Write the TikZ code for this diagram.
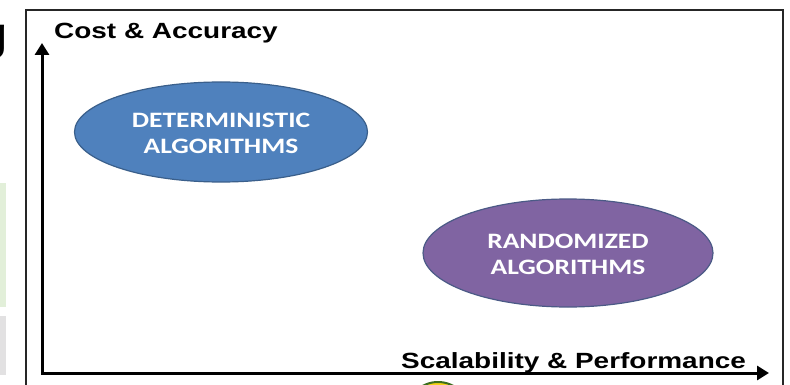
\documentclass[tikz,border=0pt]{standalone}
\usepackage{fontspec}
\usepackage{graphicx}
\usetikzlibrary{arrows.meta,shapes.geometric}
\newfontfamily\axisfont{Liberation Sans}
\newfontfamily\bubblefont{Carlito}
\definecolor{detblue}{HTML}{4F81BD}
\definecolor{detedge}{HTML}{3A5F8B}
\definecolor{randpurple}{HTML}{8064A2}
\definecolor{randedge}{HTML}{4B5A86}
\definecolor{fragGreen}{HTML}{E2EFD9}
\definecolor{fragGray}{HTML}{E2E1E2}
\definecolor{badgeYellow}{HTML}{F5D216}
\definecolor{badgeGreen}{HTML}{3C6E1E}
\tikzset{
  axislabel/.style={inner sep=0pt, font=\axisfont\bfseries\fontsize{22}{26}\selectfont},
  bubble/.style={ellipse, draw, line width=1.2pt, inner sep=0pt, outer sep=0pt, align=center, text=white,
    font=\bubblefont\bfseries\fontsize{22}{26}\selectfont},
  axisline/.style={line width=3pt, line join=miter, {Triangle[length=12pt,width=14pt]}-{Triangle[length=12pt,width=14pt]}},
  framebox/.style={line width=2pt, draw=black!85},
}
\newcommand{\bubbletext}[2]{\raisebox{-3pt}[\height][\depth]{\scalebox{1.25}[1]{\begin{tabular}{@{}c@{}}#1\\#2\end{tabular}}}}
\begin{document}
\begin{tikzpicture}[x=1pt,y=-1pt]
\useasboundingbox (0,0) rectangle (790,385);
\fill[white] (0,0) rectangle (790,385);
\begin{scope}
  \clip (0,0) rectangle (790,385);
  % fragments of neighbouring slide content
  \node[anchor=base east, inner sep=0pt, font=\axisfont\bfseries\fontsize{46}{46}\selectfont] (gfrag) at (8,50) {g};
  \fill[fragGreen] (0,183) rectangle (6,307);
  \fill[fragGray] (0,316) rectangle (6,375);
  \draw[fill=badgeYellow, draw=badgeGreen, line width=2pt] (438,414) circle[radius=32];
  % frame
  \draw[framebox] (26,395) -- (26,10) -- (783,10) -- (783,395);
\end{scope}
% axes
\coordinate (yTip) at (42,43);
\coordinate (origin) at (42,373);
\coordinate (xTip) at (769,373);
\draw[axisline] (yTip) -- (origin) -- (xTip);
\node[axislabel, anchor=base west] (ylabel) at (54,39) {\scalebox{1.27}[1]{Cost \& Accuracy}};
\node[axislabel, anchor=base west] (xlabel) at (401,368) {\scalebox{1.27}[1]{Scalability \& Performance}};
% bubbles
\node[bubble, fill=detblue, draw=detedge, minimum width=293pt, minimum height=100pt] (det) at (221,132)
  {\bubbletext{DETERMINISTIC}{ALGORITHMS}};
\node[bubble, fill=randpurple, draw=randedge, minimum width=290pt, minimum height=108pt] (rand) at (568,253)
  {\bubbletext{RANDOMIZED}{ALGORITHMS}};
\end{tikzpicture}
\end{document}
